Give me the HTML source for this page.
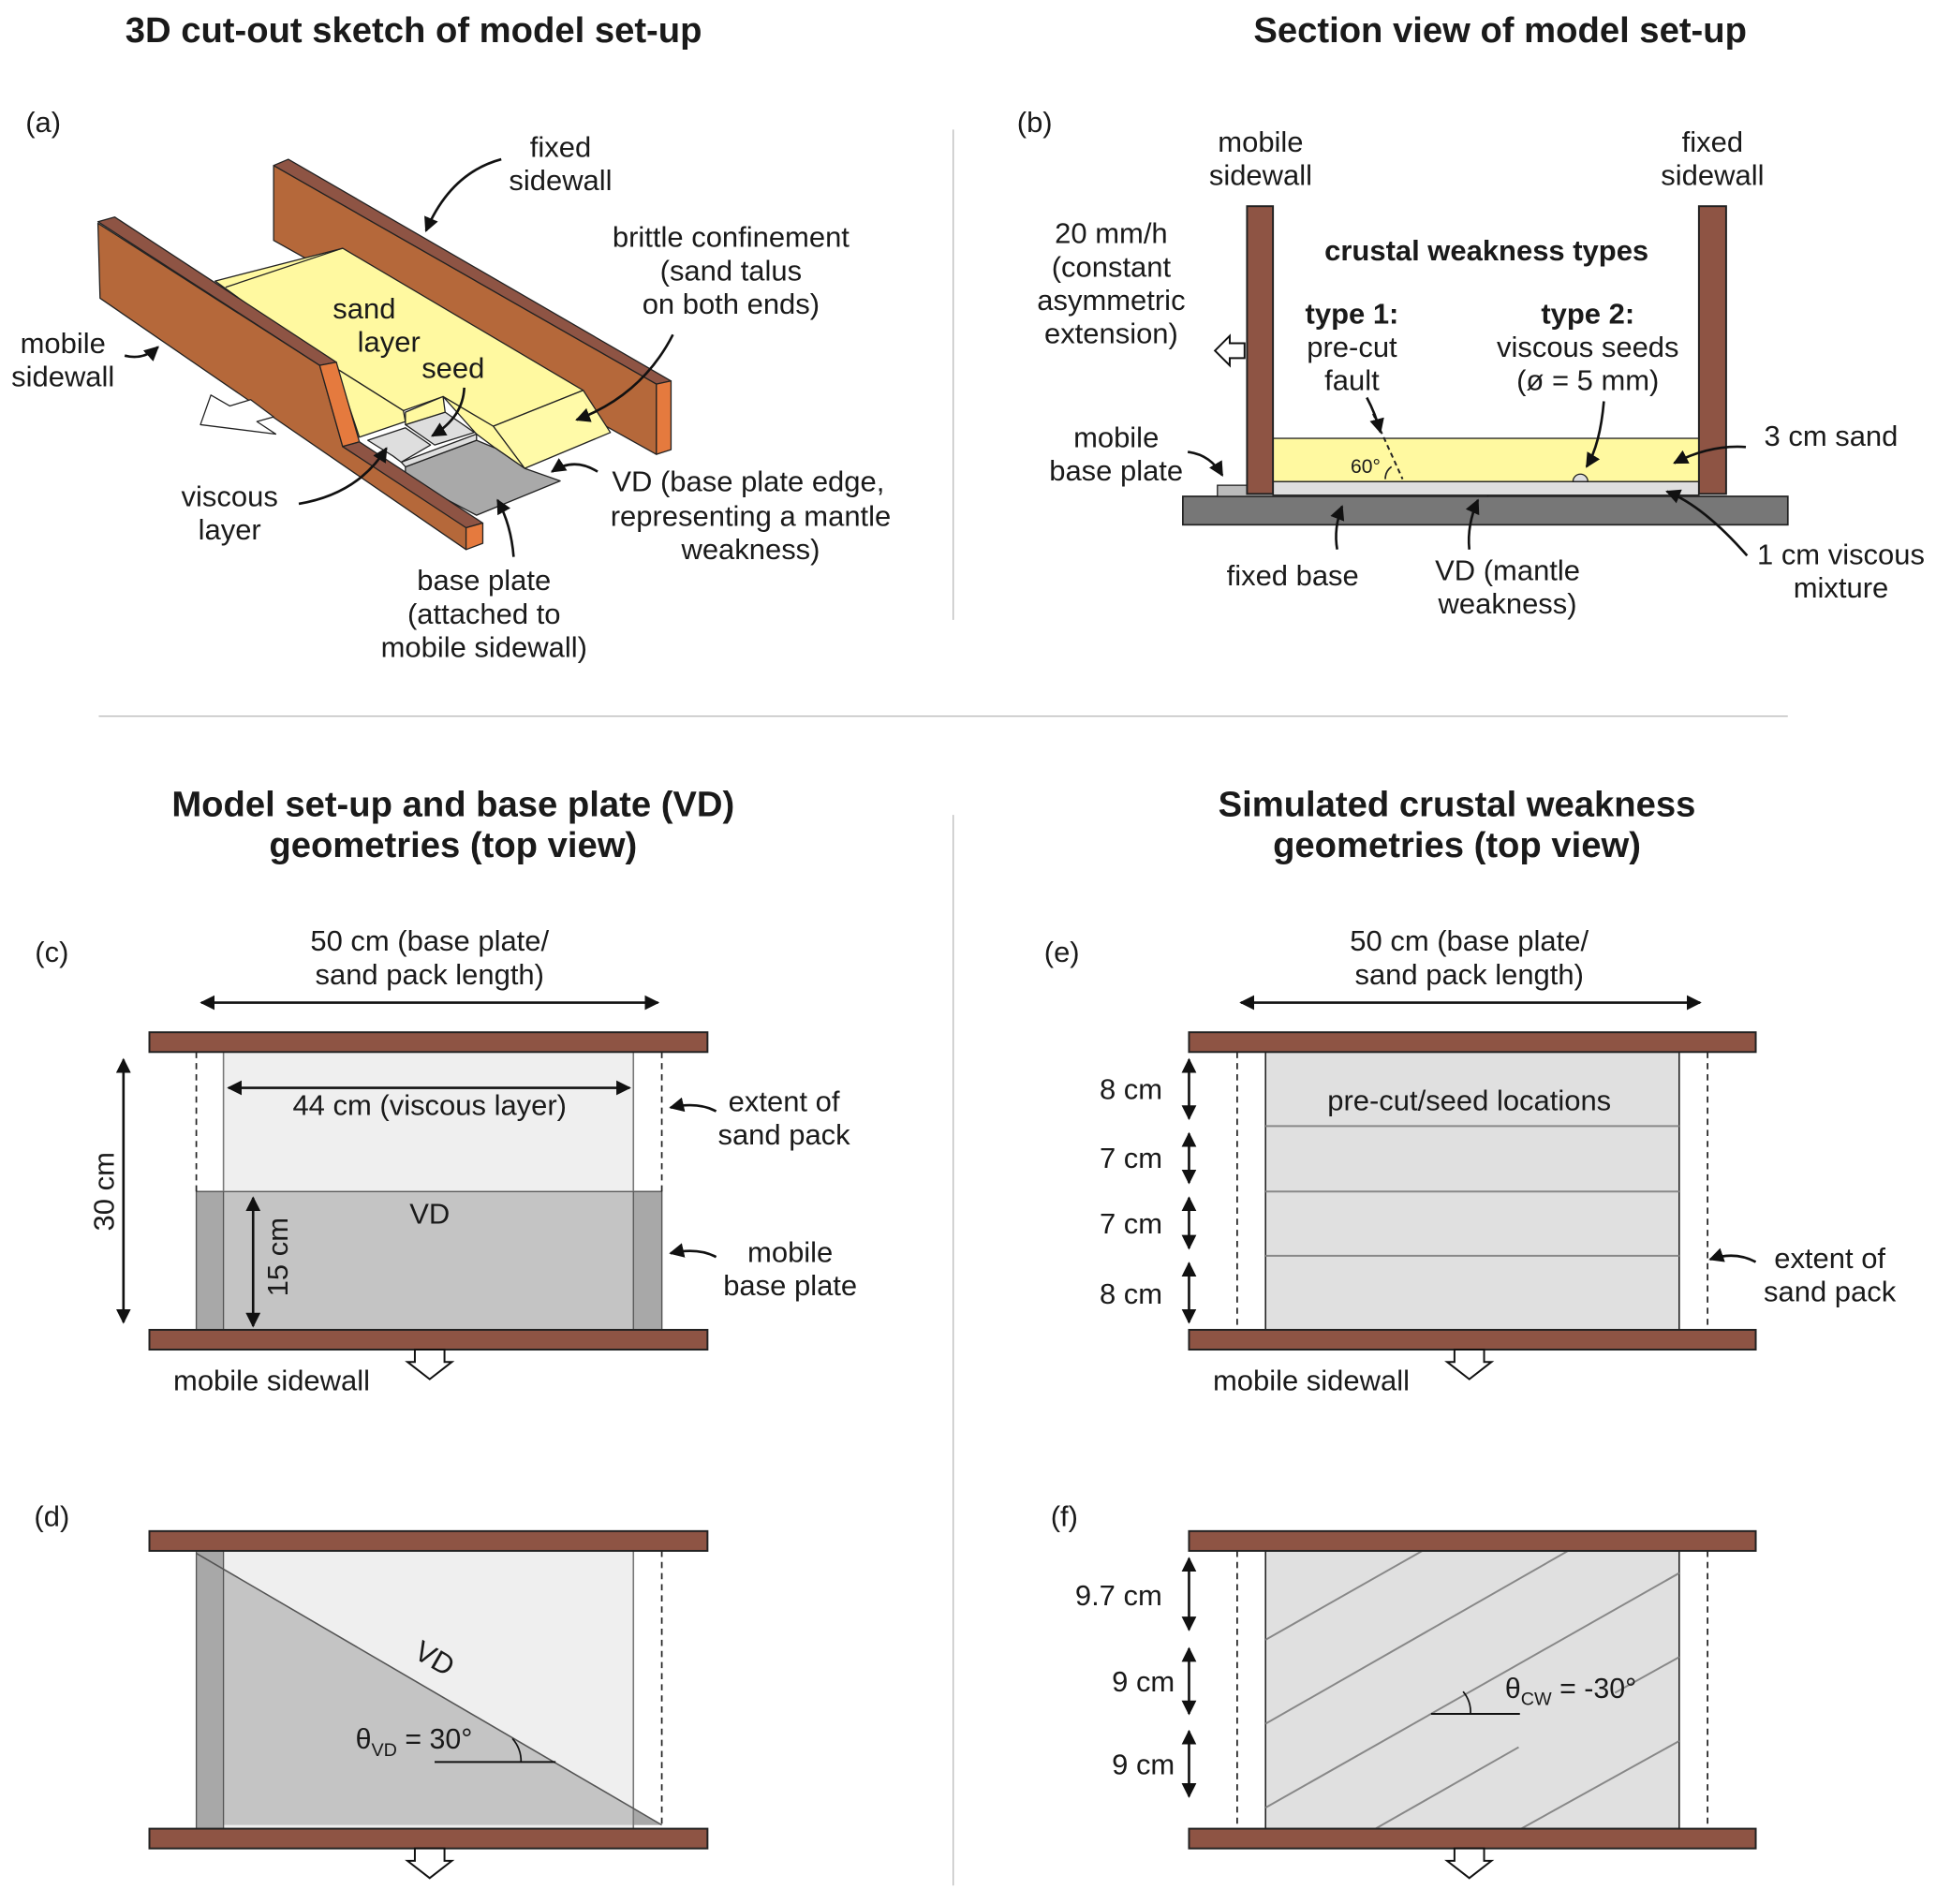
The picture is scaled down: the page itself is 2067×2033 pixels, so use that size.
<!DOCTYPE html>
<html><head><meta charset="utf-8"><style>
html,body{margin:0;padding:0;background:#fff;}
svg{display:block;}
text{font-family:"Liberation Sans",Arial,sans-serif;fill:#1a1a1a;}
.l{font-size:23.5px;text-anchor:middle;}
.t{font-size:29px;font-weight:bold;text-anchor:middle;}
.b{font-weight:bold;}
.wall{fill:#8e5444;stroke:#222;stroke-width:1.5;}
.ar{fill:none;stroke:#111;stroke-width:2;marker-end:url(#ah);}
.dar{fill:none;stroke:#111;stroke-width:2;marker-end:url(#ah2);marker-start:url(#ah2s);}
.hol{fill:#fff;stroke:#111;stroke-width:1.5;}
.ns{vector-effect:non-scaling-stroke;stroke:#222;stroke-width:1.3;stroke-linejoin:round;}
</style></head><body>
<svg width="2067" height="2033" viewBox="0 0 1568 1542" preserveAspectRatio="none" xmlns="http://www.w3.org/2000/svg">
<defs>
<marker id="ah" viewBox="0 0 10 10" refX="9" refY="5" markerWidth="6" markerHeight="6" orient="auto" markerUnits="strokeWidth"><path d="M0,0 L10,5 L0,10 Z" fill="#111"/></marker>
<marker id="ah2" viewBox="0 0 10 10" refX="9" refY="5" markerWidth="6" markerHeight="6" orient="auto" markerUnits="strokeWidth"><path d="M0,0 L10,5 L0,10 Z" fill="#111"/></marker>
<marker id="ah2s" viewBox="0 0 10 10" refX="1" refY="5" markerWidth="6" markerHeight="6" orient="auto" markerUnits="strokeWidth"><path d="M10,0 L0,5 L10,10 Z" fill="#111"/></marker>
<clipPath id="fc"><rect x="1025" y="1256" width="335" height="225"/></clipPath>
</defs>

<!-- titles -->
<text class="t" x="335" y="34">3D cut-out sketch of model set-up</text>
<text class="t" x="1215" y="34">Section view of model set-up</text>
<text class="t" x="367" y="661">Model set-up and base plate (VD)</text>
<text class="t" x="367" y="694">geometries (top view)</text>
<text class="t" x="1180" y="661">Simulated crustal weakness</text>
<text class="t" x="1180" y="694">geometries (top view)</text>

<!-- dividers -->
<line x1="772" y1="105" x2="772" y2="502" stroke="#bbb" stroke-width="1"/>
<line x1="80" y1="580" x2="1448" y2="580" stroke="#bbb" stroke-width="1"/>
<line x1="772" y1="660" x2="772" y2="1527" stroke="#bbb" stroke-width="1"/>

<!-- ========== (a) 3D sketch ========== -->
<text class="l" x="35" y="107">(a)</text>
<g transform="translate(60.7,113.8) scale(0.3388,0.2529)">
  <polygon class="ns" fill="#b5683a" points="475,80 1390,780 1390,1005 475,320"/>
  <polygon class="ns" fill="#8e5444" points="475,80 510,60 1425,770 1390,780"/>
  <polygon class="ns" fill="#e57a3e" points="1390,780 1425,770 1425,990 1390,1005"/>
  <polygon class="ns" fill="#fff9a0" points="335,450 640,345 1215,800 1000,915 880,820 785,865 625,730"/>
  <line class="ns" x1="360" y1="470" x2="640" y2="345"/>
  <polygon class="ns" fill="#fffaa8" points="1000,915 1215,800 1280,935 1075,1050"/>
  <polygon class="ns" fill="#fff9a0" points="880,820 1000,915 1075,1050 1005,985 960,940"/>
  <polygon class="ns" fill="#fff9a0" points="625,730 785,865 790,900 680,950 640,790"/>
  <polygon class="ns" fill="#a9a9a9" points="790,1045 960,960 1005,985 1075,1050 1160,1090 960,1200 790,1080"/>
  <polygon class="ns" fill="#dedede" points="700,960 790,920 850,975 780,1030 760,1010"/>
  <polygon class="ns" fill="#dedede" points="780,1030 960,940 960,960 790,1045"/>
  <polygon class="ns" fill="#dedede" points="790,910 885,870 955,935 860,975"/>
  <polygon class="ns" fill="#fff9a0" points="790,870 880,820 885,870 790,910"/>
  <polygon class="ns" fill="#b5683a" points="55,265 585,720 640,980 935,1235 935,1310 60,505"/>
  <polygon class="ns" fill="#8e5444" points="55,260 95,245 625,710 585,720"/>
  <polygon class="ns" fill="#e57a3e" points="585,720 625,710 680,965 640,980"/>
  <polygon class="ns" fill="#8e5444" points="640,980 680,965 975,1225 935,1240"/>
  <polygon class="ns" fill="#e57a3e" points="935,1240 975,1225 975,1290 935,1310"/>
  <polygon class="ns" fill="#fff" points="300,910 325,815 370,850 420,830 475,885 435,900 480,940"/>
</g>
<text class="l" x="454" y="127">fixed</text>
<text class="l" x="454" y="154">sidewall</text>
<text class="l" x="592" y="200">brittle confinement</text>
<text class="l" x="592" y="227">(sand talus</text>
<text class="l" x="592" y="254">on both ends)</text>
<text class="l" x="295" y="258">sand</text>
<text class="l" x="315" y="285">layer</text>
<text class="l" x="367" y="306">seed</text>
<text class="l" x="51" y="286">mobile</text>
<text class="l" x="51" y="313">sidewall</text>
<text class="l" x="186" y="410">viscous</text>
<text class="l" x="186" y="437">layer</text>
<text class="l" x="606" y="398">VD (base plate edge,</text>
<text class="l" x="608" y="426">representing a mantle</text>
<text class="l" x="608" y="453">weakness)</text>
<text class="l" x="392" y="478">base plate</text>
<text class="l" x="392" y="505">(attached to</text>
<text class="l" x="392" y="532">mobile sidewall)</text>
<path class="ar" d="M406,129 Q365,140 345,187"/>
<path class="ar" d="M101,288 Q116,292 128,281"/>
<path class="ar" d="M242,408 Q290,400 313,363"/>
<path class="ar" d="M376,314 Q375,338 350,353"/>
<path class="ar" d="M545,271 Q520,320 467,340"/>
<path class="ar" d="M484,382 Q465,370 447,382"/>
<path class="ar" d="M416,451 Q414,425 403,405"/>

<!-- ========== (b) section ========== -->
<text class="l" x="838" y="107">(b)</text>
<rect x="958" y="402" width="490" height="23" fill="#777" stroke="#222" stroke-width="1.3"/>
<rect x="986" y="393" width="219" height="9" fill="#bbb" stroke="#222" stroke-width="1"/>
<rect x="1031" y="390" width="345" height="11" fill="#dedede" stroke="#222" stroke-width="1"/>
<rect x="1031" y="355" width="345" height="35" fill="#fff9a0" stroke="#222" stroke-width="1"/>
<rect class="wall" x="1010" y="167" width="21" height="233"/>
<rect class="wall" x="1376" y="167" width="22" height="233"/>
<line x1="1112" y1="335" x2="1136" y2="388" stroke="#222" stroke-width="1.5" stroke-dasharray="4,3"/>
<path d="M1122,388 A12,12 0 0 1 1127,378" fill="none" stroke="#222" stroke-width="1.3"/>
<path d="M1274,390 A6,6 0 0 1 1286,390 Z" fill="#dedede" stroke="#222" stroke-width="1"/>
<polygon class="hol" points="984,284 996,272 996,278 1008,278 1008,290 996,290 996,296"/>
<text class="l" x="1021" y="123">mobile</text>
<text class="l" x="1021" y="150">sidewall</text>
<text class="l" x="1387" y="123">fixed</text>
<text class="l" x="1387" y="150">sidewall</text>
<text class="l" x="900" y="197">20 mm/h</text>
<text class="l" x="900" y="224">(constant</text>
<text class="l" x="900" y="251">asymmetric</text>
<text class="l" x="900" y="278">extension)</text>
<text class="l b" x="1204" y="211">crustal weakness types</text>
<text class="l b" x="1095" y="262">type 1:</text>
<text class="l" x="1095" y="289">pre-cut</text>
<text class="l" x="1095" y="316">fault</text>
<text class="l b" x="1286" y="262">type 2:</text>
<text class="l" x="1286" y="289">viscous seeds</text>
<text class="l" x="1286" y="316">(ø = 5 mm)</text>
<text class="l" x="904" y="362">mobile</text>
<text class="l" x="904" y="389">base plate</text>
<text class="l" x="1483" y="361">3 cm sand</text>
<text x="1106" y="383" style="font-size:16px;text-anchor:middle">60°</text>
<text class="l" x="1047" y="474">fixed base</text>
<text class="l" x="1221" y="470">VD (mantle</text>
<text class="l" x="1221" y="497">weakness)</text>
<text class="l" x="1491" y="457">1 cm viscous</text>
<text class="l" x="1491" y="484">mixture</text>
<path class="ar" d="M962,366 Q980,368 990,385"/>
<path class="ar" d="M1414,362 Q1385,360 1356,375"/>
<path class="ar" d="M1415,450 Q1380,410 1350,398"/>
<path class="ar" d="M1083,445 Q1080,428 1087,410"/>
<path class="ar" d="M1190,445 Q1188,425 1197,405"/>
<path class="ar" d="M1107,322 Q1114,335 1118,350"/>
<path class="ar" d="M1299,325 Q1296,360 1285,378"/>

<!-- ========== (c) ========== -->
<text class="l" x="42" y="779">(c)</text>
<rect x="181" y="852" width="332" height="113" fill="#efefef"/>
<rect x="159" y="965" width="377" height="112" fill="#c4c4c4" stroke="#555" stroke-width="1"/>
<rect x="159" y="965" width="22" height="112" fill="#a8a8a8" stroke="#555" stroke-width="1"/>
<rect x="513" y="965" width="23" height="112" fill="#a8a8a8" stroke="#555" stroke-width="1"/>
<line x1="181" y1="852" x2="181" y2="965" stroke="#777" stroke-width="1.2"/>
<line x1="513" y1="852" x2="513" y2="965" stroke="#777" stroke-width="1.2"/>
<line x1="159" y1="852" x2="159" y2="965" stroke="#222" stroke-width="1.3" stroke-dasharray="5,4"/>
<line x1="536" y1="852" x2="536" y2="965" stroke="#222" stroke-width="1.3" stroke-dasharray="5,4"/>
<rect class="wall" x="121" y="836" width="452" height="16"/>
<rect class="wall" x="121" y="1077" width="452" height="16"/>
<polygon class="hol" points="336,1093 360,1093 360,1103 366,1103 348,1117 330,1103 336,1103"/>
<text class="l" x="348" y="770">50 cm (base plate/</text>
<text class="l" x="348" y="797">sand pack length)</text>
<line class="dar" x1="163" y1="812" x2="533" y2="812"/>
<text class="l" x="348" y="903">44 cm (viscous layer)</text>
<line class="dar" x1="185" y1="881" x2="510" y2="881"/>
<text class="l" x="635" y="900">extent of</text>
<text class="l" x="635" y="927">sand pack</text>
<path class="ar" d="M580,900 Q565,892 543,897"/>
<text class="l" x="640" y="1022">mobile</text>
<text class="l" x="640" y="1049">base plate</text>
<path class="ar" d="M580,1018 Q565,1010 543,1015"/>
<text class="l" x="348" y="991">VD</text>
<text class="l" transform="translate(92,965) rotate(-90)" x="0" y="0">30 cm</text>
<line class="dar" x1="100" y1="858" x2="100" y2="1071"/>
<text class="l" transform="translate(233,1018) rotate(-90)" x="0" y="0">15 cm</text>
<line class="dar" x1="205" y1="970" x2="205" y2="1074"/>
<text class="l" x="220" y="1126">mobile sidewall</text>

<!-- ========== (d) ========== -->
<text class="l" x="42" y="1236">(d)</text>
<rect x="181" y="1256" width="332" height="225" fill="#efefef"/>
<polygon points="159,1258 536,1478 159,1478" fill="#c4c4c4"/>
<rect x="159" y="1256" width="22" height="225" fill="#a8a8a8" stroke="#555" stroke-width="1"/>
<polygon points="513,1465 536,1478 513,1478" fill="#a8a8a8"/>
<line x1="513" y1="1256" x2="513" y2="1481" stroke="#777" stroke-width="1.2"/>
<line x1="159" y1="1258" x2="536" y2="1478" stroke="#555" stroke-width="1.2"/>
<line x1="536" y1="1256" x2="536" y2="1481" stroke="#222" stroke-width="1.3" stroke-dasharray="5,4"/>
<rect class="wall" x="121" y="1240" width="452" height="16"/>
<rect class="wall" x="121" y="1481" width="452" height="16"/>
<polygon class="hol" points="336,1497 360,1497 360,1507 366,1507 348,1521 330,1507 336,1507"/>
<text class="l" transform="translate(348,1350) rotate(30)" x="0" y="0">VD</text>
<line x1="352" y1="1427" x2="450" y2="1427" stroke="#111" stroke-width="1.5"/>
<path d="M422,1427 A28,28 0 0 0 415,1408" fill="none" stroke="#111" stroke-width="1.3"/>
<text x="288" y="1416" style="font-size:23px">θ<tspan dy="6" style="font-size:15px">VD</tspan><tspan dy="-6"> = 30°</tspan></text>

<!-- ========== (e) ========== -->
<text class="l" x="860" y="779">(e)</text>
<rect x="1025" y="852" width="335" height="225" fill="#e0e0e0" stroke="#222" stroke-width="1.2"/>
<line x1="1025" y1="912" x2="1360" y2="912" stroke="#888" stroke-width="1.5"/>
<line x1="1025" y1="965" x2="1360" y2="965" stroke="#888" stroke-width="1.5"/>
<line x1="1025" y1="1017" x2="1360" y2="1017" stroke="#888" stroke-width="1.5"/>
<line x1="1002" y1="852" x2="1002" y2="1077" stroke="#222" stroke-width="1.3" stroke-dasharray="5,4"/>
<line x1="1383" y1="852" x2="1383" y2="1077" stroke="#222" stroke-width="1.3" stroke-dasharray="5,4"/>
<rect class="wall" x="963" y="836" width="459" height="16"/>
<rect class="wall" x="963" y="1077" width="459" height="16"/>
<polygon class="hol" points="1178,1093 1202,1093 1202,1103 1208,1103 1190,1117 1172,1103 1178,1103"/>
<text class="l" x="1190" y="770">50 cm (base plate/</text>
<text class="l" x="1190" y="797">sand pack length)</text>
<line class="dar" x1="1005" y1="812" x2="1377" y2="812"/>
<text class="l" x="1190" y="899">pre-cut/seed locations</text>
<text class="l" x="916" y="890">8 cm</text>
<text class="l" x="916" y="946">7 cm</text>
<text class="l" x="916" y="999">7 cm</text>
<text class="l" x="916" y="1056">8 cm</text>
<line class="dar" x1="963" y1="858" x2="963" y2="906"/>
<line class="dar" x1="963" y1="918" x2="963" y2="958"/>
<line class="dar" x1="963" y1="970" x2="963" y2="1011"/>
<line class="dar" x1="963" y1="1023" x2="963" y2="1071"/>
<text class="l" x="1482" y="1027">extent of</text>
<text class="l" x="1482" y="1054">sand pack</text>
<path class="ar" d="M1422,1022 Q1405,1013 1385,1020"/>
<text class="l" x="1062" y="1126">mobile sidewall</text>

<!-- ========== (f) ========== -->
<text class="l" x="862" y="1236">(f)</text>
<rect x="1025" y="1256" width="335" height="225" fill="#e0e0e0" stroke="#222" stroke-width="1.2"/>
<g clip-path="url(#fc)" stroke="#888" stroke-width="1.5">
<line x1="1025" y1="1328" x2="1152" y2="1256"/>
<line x1="1025" y1="1396" x2="1270" y2="1256"/>
<line x1="1025" y1="1464" x2="1360" y2="1274"/>
<line x1="1114" y1="1481" x2="1230" y2="1415"/>
<line x1="1308" y1="1371" x2="1360" y2="1342"/>
<line x1="1232" y1="1481" x2="1360" y2="1410"/>
</g>
<line x1="1002" y1="1256" x2="1002" y2="1481" stroke="#222" stroke-width="1.3" stroke-dasharray="5,4"/>
<line x1="1383" y1="1256" x2="1383" y2="1481" stroke="#222" stroke-width="1.3" stroke-dasharray="5,4"/>
<rect class="wall" x="963" y="1240" width="459" height="16"/>
<rect class="wall" x="963" y="1481" width="459" height="16"/>
<polygon class="hol" points="1178,1497 1202,1497 1202,1507 1208,1507 1190,1521 1172,1507 1178,1507"/>
<line x1="1159" y1="1388" x2="1231" y2="1388" stroke="#111" stroke-width="1.5"/>
<path d="M1191,1388 A26,26 0 0 0 1185,1370" fill="none" stroke="#111" stroke-width="1.3"/>
<text x="1219" y="1375" style="font-size:23px">θ<tspan dy="6" style="font-size:15px">CW</tspan><tspan dy="-6"> = -30°</tspan></text>
<text class="l" x="906" y="1300">9.7 cm</text>
<text class="l" x="926" y="1370">9 cm</text>
<text class="l" x="926" y="1437">9 cm</text>
<line class="dar" x1="963" y1="1262" x2="963" y2="1320"/>
<line class="dar" x1="963" y1="1335" x2="963" y2="1388"/>
<line class="dar" x1="963" y1="1402" x2="963" y2="1455"/>
</svg>
</body></html>
